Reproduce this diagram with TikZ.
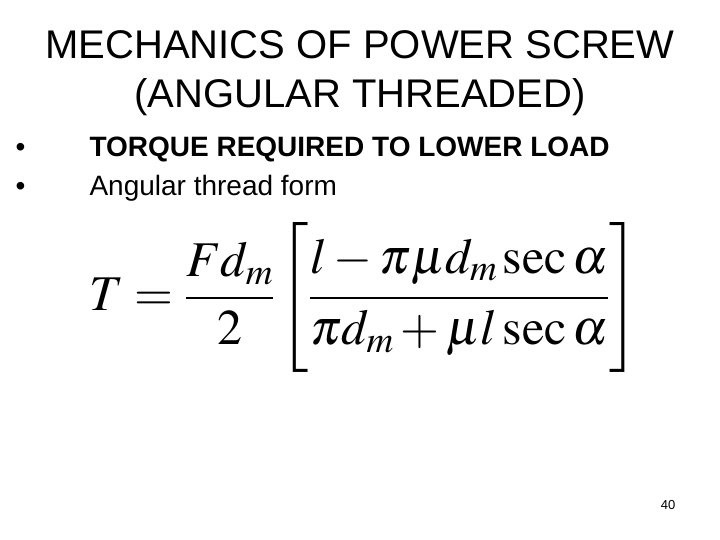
\documentclass[tikz,border=0pt]{standalone}
\usepackage{mathptmx}
\usepackage{fontspec}
\setmainfont{Liberation Sans}
\begin{document}
\begin{tikzpicture}[x=1pt,y=-1pt]
\useasboundingbox (0,0) rectangle (720,540);
\tikzset{title/.style={font=\fontsize{40}{49}\selectfont,align=center},
 bul/.style={font=\fontsize{28}{32}\selectfont,anchor=base west}}
\node[title] (t) at (360,73) {MECHANICS OF POWER SCREW\\(ANGULAR THREADED)};
\node[bul] (b1) at (12,157) {\textbullet};
\node[bul] (b2) at (12,196) {\textbullet};
\node[bul] (l1) at (86,157) {\textbf{TORQUE REQUIRED TO LOWER LOAD}};
\node[bul] (l2) at (86,196) {Angular thread form};
\node[inner sep=0pt] (f) at (364,298) {\fontsize{50}{60}\selectfont$\displaystyle T=\frac{Fd_m}{2}\left[\frac{l-\pi\mu d_m\sec\alpha\rule[-18pt]{0pt}{52pt}}{\pi d_m+\mu l\sec\alpha\rule[-22pt]{0pt}{52pt}}\right]$};
\node[font=\fontsize{13}{15}\selectfont] (n) at (668,505) {40};
\end{tikzpicture}
\end{document}
